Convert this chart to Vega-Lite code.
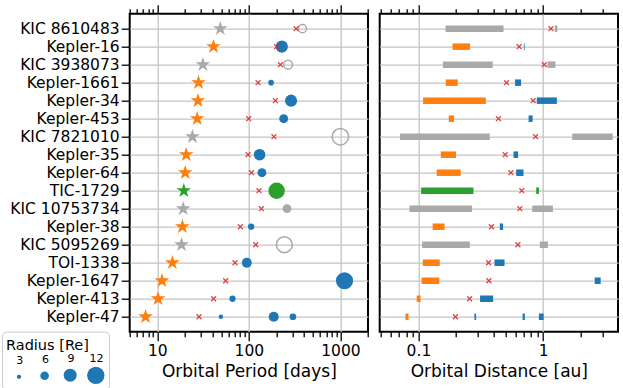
{
  "$schema": "https://vega.github.io/schema/vega-lite/v6.json",
  "autosize": {"type": "none"},
  "padding": {"left": 129.7, "top": 13.7, "right": 493.3, "bottom": 374.3},
  "config": {
    "font": "DejaVu Sans",
    "view": {"stroke": "black", "strokeWidth": 2},
    "axis": {"labelColor": "black", "titleColor": "black", "tickColor": "black", "tickWidth": 1.3, "gridColor": "#c4c4c4", "gridWidth": 1.3, "domain": false, "labelFontSize": 15.5, "titleFontSize": 17, "titleFontWeight": "normal", "labelOverlap": false, "labelFlush": false}
  },
  "datasets": {
    "sys": [
      {"name": "KIC 8610483", "status": "cand", "pbin": 48.8, "pcrit": 328, "bmin": 0.165, "bmax": 0.481, "acrit": 1.154},
      {"name": "Kepler-16", "status": "conf", "pbin": 41.1, "pcrit": 201, "bmin": 0.1875, "bmax": 0.2595, "acrit": 0.641},
      {"name": "KIC 3938073", "status": "cand", "pbin": 31.5, "pcrit": 221, "bmin": 0.157, "bmax": 0.394, "acrit": 1.019},
      {"name": "Kepler-1661", "status": "conf", "pbin": 28.2, "pcrit": 126, "bmin": 0.1655, "bmax": 0.2065, "acrit": 0.508},
      {"name": "Kepler-34", "status": "conf", "pbin": 27.8, "pcrit": 195, "bmin": 0.1089, "bmax": 0.347, "acrit": 0.832},
      {"name": "Kepler-453", "status": "conf", "pbin": 27.3, "pcrit": 99.6, "bmin": 0.175, "bmax": 0.193, "acrit": 0.438},
      {"name": "KIC 7821010", "status": "cand", "pbin": 24.2, "pcrit": 188, "bmin": 0.0712, "bmax": 0.373, "acrit": 0.869},
      {"name": "Kepler-35", "status": "conf", "pbin": 20.7, "pcrit": 98, "bmin": 0.151, "bmax": 0.2, "acrit": 0.496},
      {"name": "Kepler-64", "status": "conf", "pbin": 20.2, "pcrit": 107, "bmin": 0.14, "bmax": 0.218, "acrit": 0.551},
      {"name": "TIC-1729", "status": "tic", "pbin": 19.5, "pcrit": 129, "bmin": 0.105, "bmax": 0.276, "acrit": 0.674},
      {"name": "KIC 10753734", "status": "cand", "pbin": 19.2, "pcrit": 137, "bmin": 0.0847, "bmax": 0.269, "acrit": 0.65},
      {"name": "Kepler-38", "status": "conf", "pbin": 18.8, "pcrit": 80.7, "bmin": 0.13, "bmax": 0.162, "acrit": 0.385},
      {"name": "KIC 5095269", "status": "cand", "pbin": 18.4, "pcrit": 119, "bmin": 0.107, "bmax": 0.258, "acrit": 0.627},
      {"name": "TOI-1338", "status": "conf", "pbin": 14.6, "pcrit": 70.6, "bmin": 0.1083, "bmax": 0.148, "acrit": 0.365},
      {"name": "Kepler-1647", "status": "conf", "pbin": 11.26, "pcrit": 55.8, "bmin": 0.106, "bmax": 0.147, "acrit": 0.367},
      {"name": "Kepler-413", "status": "conf", "pbin": 10.2, "pcrit": 41.2, "bmin": 0.0969, "bmax": 0.104, "acrit": 0.257},
      {"name": "Kepler-47", "status": "conf", "pbin": 7.45, "pcrit": 28.6, "bmin": 0.0787, "bmax": 0.0832, "acrit": 0.198}
    ],
    "pl": [
      {"name": "KIC 8610483", "status": "cand", "hollow": true, "period": 385, "radius": 5.7, "amin": 1.24, "amax": 1.3},
      {"name": "Kepler-16", "status": "conf", "hollow": false, "period": 229, "radius": 8.4, "amin": 0.7, "amax": 0.71},
      {"name": "KIC 3938073", "status": "cand", "hollow": true, "period": 268, "radius": 6.1, "amin": 1.084, "amax": 1.256},
      {"name": "Kepler-1661", "status": "conf", "hollow": false, "period": 175, "radius": 3.9, "amin": 0.595, "amax": 0.665},
      {"name": "Kepler-34", "status": "conf", "hollow": false, "period": 289, "radius": 8.4, "amin": 0.889, "amax": 1.288},
      {"name": "Kepler-453", "status": "conf", "hollow": false, "period": 240, "radius": 6.2, "amin": 0.764, "amax": 0.823},
      {"name": "KIC 7821010", "status": "cand", "hollow": true, "period": 1000, "radius": 11.4, "amin": 1.71, "amax": 3.61},
      {"name": "Kepler-35", "status": "conf", "hollow": false, "period": 131, "radius": 8.0, "amin": 0.578, "amax": 0.629},
      {"name": "Kepler-64", "status": "conf", "hollow": false, "period": 139, "radius": 6.2, "amin": 0.607, "amax": 0.695},
      {"name": "TIC-1729", "status": "tic", "hollow": false, "period": 201, "radius": 11.4, "amin": 0.879, "amax": 0.925},
      {"name": "KIC 10753734", "status": "cand", "hollow": false, "period": 261, "radius": 6.1, "amin": 0.817, "amax": 1.197},
      {"name": "Kepler-38", "status": "conf", "hollow": false, "period": 106, "radius": 4.35, "amin": 0.449, "amax": 0.477},
      {"name": "KIC 5095269", "status": "cand", "hollow": true, "period": 244, "radius": 11, "amin": 0.94, "amax": 1.091},
      {"name": "TOI-1338", "status": "conf", "hollow": false, "period": 95, "radius": 6.85, "amin": 0.407, "amax": 0.49},
      {"name": "Kepler-1647", "status": "conf", "hollow": false, "period": 1108, "radius": 11.9, "amin": 2.59, "amax": 2.89},
      {"name": "Kepler-413", "status": "conf", "hollow": false, "period": 66.3, "radius": 4.35, "amin": 0.312, "amax": 0.397},
      {"name": "Kepler-47", "status": "conf", "hollow": false, "period": 49.5, "radius": 3.05, "amin": 0.281, "amax": 0.29},
      {"name": "Kepler-47", "status": "conf", "hollow": false, "period": 187, "radius": 7.0, "amin": 0.684, "amax": 0.713},
      {"name": "Kepler-47", "status": "conf", "hollow": false, "period": 303, "radius": 4.65, "amin": 0.924, "amax": 1.008}
    ]
  },
  "spacing": 9,
  "hconcat": [
    {
      "width": 238.3,
      "height": 318,
      "layer": [
        {
          "data": {"name": "sys"},
          "mark": {"type": "point", "shape": "M0,-1L0.2245,-0.309L0.951,-0.309L0.363,0.118L0.588,0.809L0,0.382L-0.588,0.809L-0.363,0.118L-0.951,-0.309L-0.2245,-0.309Z", "filled": true, "size": 239, "opacity": 1},
          "encoding": {
            "x": {"field": "pbin", "type": "quantitative", "scale": {"type": "log", "domain": [5, 2000], "nice": false},
              "axis": {"orient": "bottom", "title": "Orbital Period [days]", "titlePadding": 4, "labelPadding": 3,
                "values": [5,6,7,8,9,10,20,30,40,50,60,70,80,90,100,200,300,400,500,600,700,800,900,1000,2000],
                "labelExpr": "indexof([10,100,1000], datum.value) >= 0 ? '' + datum.value : ''",
                "tickSize": {"condition": {"test": "indexof([10,100,1000], datum.value) >= 0", "value": 9}, "value": 5},
                "grid": true,
                "gridOpacity": {"condition": {"test": "indexof([10,100,1000], datum.value) >= 0", "value": 1}, "value": 0}}},
            "y": {"field": "name", "type": "nominal",
              "scale": {"type": "point", "padding": 0.83, "domain": ["KIC 8610483","Kepler-16","KIC 3938073","Kepler-1661","Kepler-34","Kepler-453","KIC 7821010","Kepler-35","Kepler-64","TIC-1729","KIC 10753734","Kepler-38","KIC 5095269","TOI-1338","Kepler-1647","Kepler-413","Kepler-47"]},
              "axis": {"orient": "left", "title": null, "tickSize": 8.5, "labelPadding": 2, "grid": true}},
            "fill": {"field": "status", "type": "nominal", "scale": {"domain": ["conf","tic","cand"], "range": ["#ff7f0e","#2ca02c","#a9a9a9"]}, "legend": null}
          }
        },
        {
          "data": {"name": "pl"},
          "transform": [{"filter": "!datum.hollow"}],
          "mark": {"type": "circle", "opacity": 1},
          "encoding": {
            "x": {"field": "period", "type": "quantitative", "axis": null},
            "y": {"field": "name", "type": "nominal"},
            "color": {"field": "status", "type": "nominal", "scale": {"domain": ["conf","tic","cand"], "range": ["#1f77b4","#2ca02c","#a9a9a9"]}, "legend": null},
            "size": {"field": "radius", "type": "quantitative", "scale": {"type": "pow", "exponent": 2, "domain": [0, 12], "range": [0, 300]},
              "legend": {"title": "\u2007\u00a0Radius [Re]\u2007\u2007\u00a0", "values": [3,6,9,12], "orient": "none", "legendX": -127.7, "legendY": 318, "direction": "horizontal", "columns": 4, "gridAlign": "all",
                "titleAnchor": "start", "titleAlign": "left", "titleFontSize": 14.5, "titleFontWeight": "normal", "titleColor": "black", "titlePadding": 16,
                "labelFontSize": 11, "labelColor": "black", "labelOffset": 0, "labelAlign": "center",
                "symbolType": "circle", "symbolFillColor": "#1f77b4", "symbolStrokeWidth": 0, "symbolOpacity": 1, "symbolOffset": 4,
                "columnPadding": 3.6, "padding": 4, "strokeColor": "#cccccc", "cornerRadius": 4, "fillColor": "white",
                "encode": {"title": {"update": {"dy": {"value": 3}}}, "labels": {"update": {"dx": {"value": -8.2}, "dy": {"value": -16}}}, "symbols": {"update": {"fill": {"value": "#1f77b4"}, "stroke": {"value": "transparent"}}}}}}
          }
        },
        {
          "data": {"name": "pl"},
          "transform": [{"filter": "datum.hollow"}],
          "mark": {"type": "point", "shape": "circle", "filled": false, "strokeWidth": 1.5, "opacity": 1},
          "encoding": {
            "x": {"field": "period", "type": "quantitative", "axis": null},
            "y": {"field": "name", "type": "nominal"},
            "color": {"field": "status", "type": "nominal", "legend": null},
            "size": {"field": "radius", "type": "quantitative", "legend": null}
          }
        },
        {
          "data": {"name": "sys"},
          "mark": {"type": "point", "shape": "M-1,-1L1,1M-1,1L1,-1", "filled": false, "size": 24, "strokeWidth": 1.3, "color": "#d62728", "opacity": 0.85},
          "encoding": {
            "x": {"field": "pcrit", "type": "quantitative",
              "axis": {"orient": "top", "title": null, "labels": false, "grid": false,
                "values": [5,6,7,8,9,10,20,30,40,50,60,70,80,90,100,200,300,400,500,600,700,800,900,1000,2000],
                "tickSize": {"condition": {"test": "indexof([10,100,1000], datum.value) >= 0", "value": 9}, "value": 5}}},
            "y": {"field": "name", "type": "nominal"}
          }
        }
      ]
    },
    {
      "width": 238.3,
      "height": 318,
      "layer": [
        {
          "data": {"name": "sys"},
          "mark": {"type": "bar", "size": 6.5},
          "encoding": {
            "x": {"field": "bmin", "type": "quantitative", "scale": {"type": "log", "domain": [0.0489, 3.98], "nice": false},
              "axis": {"orient": "bottom", "title": "Orbital Distance [au]", "titlePadding": 4, "labelPadding": 3,
                "values": [0.05,0.06,0.07,0.08,0.09,0.1,0.2,0.3,0.4,0.5,0.6,0.7,0.8,0.9,1,2,3],
                "labelExpr": "indexof([0.1,1], datum.value) >= 0 ? '' + datum.value : ''",
                "tickSize": {"condition": {"test": "indexof([0.1,1], datum.value) >= 0", "value": 9}, "value": 5},
                "grid": true,
                "gridOpacity": {"condition": {"test": "indexof([0.1,1], datum.value) >= 0", "value": 1}, "value": 0}}},
            "x2": {"field": "bmax"},
            "y": {"field": "name", "type": "nominal",
              "scale": {"type": "point", "padding": 0.83, "domain": ["KIC 8610483","Kepler-16","KIC 3938073","Kepler-1661","Kepler-34","Kepler-453","KIC 7821010","Kepler-35","Kepler-64","TIC-1729","KIC 10753734","Kepler-38","KIC 5095269","TOI-1338","Kepler-1647","Kepler-413","Kepler-47"]},
              "axis": {"orient": "left", "title": null, "labels": false, "ticks": false, "grid": true}},
            "fill": {"field": "status", "type": "nominal", "scale": {"domain": ["conf","tic","cand"], "range": ["#ff7f0e","#2ca02c","#a9a9a9"]}, "legend": null}
          }
        },
        {
          "data": {"name": "pl"},
          "mark": {"type": "bar", "size": 6.5},
          "encoding": {
            "x": {"field": "amin", "type": "quantitative", "axis": null},
            "x2": {"field": "amax"},
            "y": {"field": "name", "type": "nominal"},
            "color": {"field": "status", "type": "nominal", "scale": {"domain": ["conf","tic","cand"], "range": ["#1f77b4","#2ca02c","#a9a9a9"]}, "legend": null}
          }
        },
        {
          "data": {"name": "sys"},
          "mark": {"type": "point", "shape": "M-1,-1L1,1M-1,1L1,-1", "filled": false, "size": 24, "strokeWidth": 1.3, "color": "#d62728", "opacity": 0.85},
          "encoding": {
            "x": {"field": "acrit", "type": "quantitative",
              "axis": {"orient": "top", "title": null, "labels": false, "grid": false,
                "values": [0.05,0.06,0.07,0.08,0.09,0.1,0.2,0.3,0.4,0.5,0.6,0.7,0.8,0.9,1,2,3],
                "tickSize": {"condition": {"test": "indexof([0.1,1], datum.value) >= 0", "value": 9}, "value": 5}}},
            "y": {"field": "name", "type": "nominal"}
          }
        }
      ]
    }
  ]
}
